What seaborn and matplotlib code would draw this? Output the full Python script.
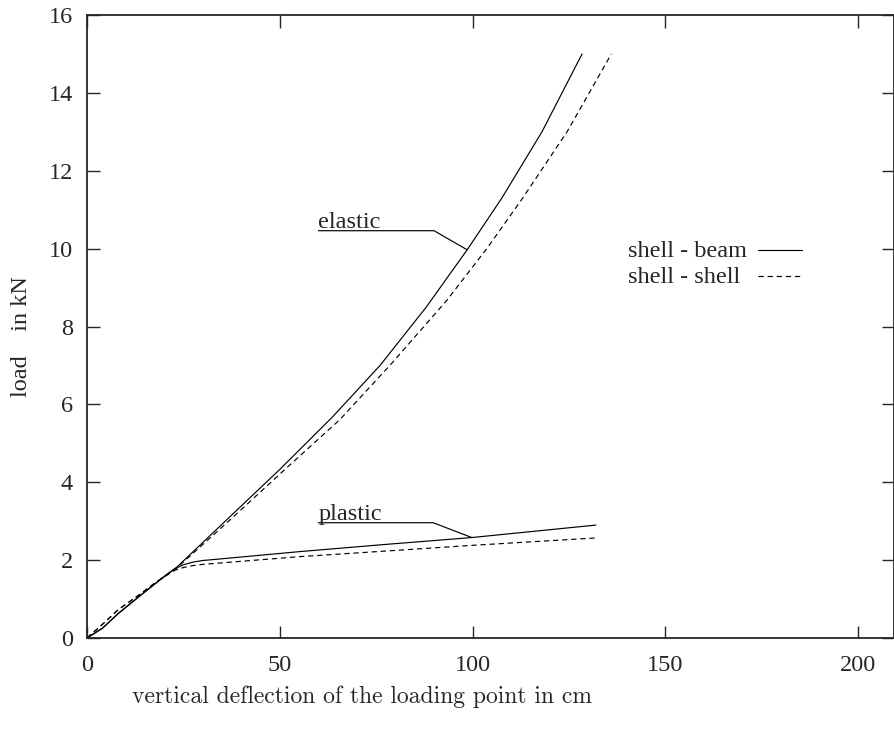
import numpy as np
import pandas as pd
import seaborn as sns
import matplotlib
matplotlib.use("Agg")
import matplotlib.pyplot as plt

# load-deflection curves (deflection in cm, load in kN)
elastic_beam_x = [0, 4, 8, 13.7, 18, 23.3, 36.6, 50, 63.5, 76, 88, 98.6, 107.6, 118, 128.4]
elastic_beam_y = [0, 0.25, 0.62, 1.08, 1.42, 1.82, 3.07, 4.33, 5.66, 7.0, 8.5, 9.97, 11.3, 13.0, 15.0]

elastic_shell_x = [0, 4, 8, 13.7, 18, 23.3, 37.5, 51, 65.5, 79, 93.3, 103.7, 112.8, 124.5, 136.0]
elastic_shell_y = [0, 0.35, 0.72, 1.12, 1.44, 1.8, 3.07, 4.3, 5.6, 7.05, 8.67, 10.0, 11.27, 13.0, 15.0]

plastic_beam_x = [0, 4, 8, 13.7, 18, 20.5, 22.8, 25, 27.5, 30, 40, 55.3, 77, 99.8, 132]
plastic_beam_y = [0, 0.25, 0.62, 1.08, 1.42, 1.62, 1.78, 1.88, 1.95, 1.99, 2.08, 2.22, 2.4, 2.58, 2.9]

plastic_shell_x = [0, 4, 8, 13.7, 18, 20.5, 22.8, 25, 27.5, 30, 40, 55.3, 77, 100, 132]
plastic_shell_y = [0, 0.35, 0.72, 1.12, 1.44, 1.6, 1.74, 1.81, 1.86, 1.89, 1.97, 2.09, 2.23, 2.38, 2.57]

# labels with their leader lines
elastic_leader_x = [60, 90, 98.6]
elastic_leader_y = [10.46, 10.46, 9.97]
plastic_leader_x = [60, 89.8, 99.8]
plastic_leader_y = [2.96, 2.96, 2.58]

x_ticks = [0, 50, 100, 150, 200]
y_ticks = [0, 2, 4, 6, 8, 10, 12, 14, 16]
key_labels = ["shell - beam", "shell - shell"]

sns.set_style("ticks")
plt.rcParams["font.family"] = ["Liberation Serif", "DejaVu Serif"]
plt.rcParams["font.size"] = 17.5

fig = plt.figure(figsize=(8.95, 7.29), dpi=100)
ax = fig.add_axes([87 / 895, 1 - 638 / 729, (894 - 87) / 895, (638 - 15) / 729])

lw = 0.85
dash = (0, (4.5, 3.2))
sns.lineplot(x=elastic_beam_x, y=elastic_beam_y, ax=ax, color="black", lw=lw, sort=False, estimator=None)
sns.lineplot(x=elastic_shell_x, y=elastic_shell_y, ax=ax, color="black", lw=lw, linestyle=dash, sort=False, estimator=None)
sns.lineplot(x=plastic_beam_x, y=plastic_beam_y, ax=ax, color="black", lw=lw, sort=False, estimator=None)
sns.lineplot(x=plastic_shell_x, y=plastic_shell_y, ax=ax, color="black", lw=lw, linestyle=dash, sort=False, estimator=None)

ax.plot(elastic_leader_x, elastic_leader_y, color="black", lw=lw)
ax.plot(plastic_leader_x, plastic_leader_y, color="black", lw=lw)
ax.text(60, 10.54, "elastic", ha="left", va="baseline")
ax.text(60, 3.04, "plastic", ha="left", va="baseline")

ax.set_xlim(0, 209.3)
ax.set_ylim(0, 16)
ax.set_xticks(x_ticks)
ax.set_yticks(y_ticks)
ax.tick_params(direction="in", top=True, right=True, length=9, width=1, labelsize=17.5)
ax.tick_params(axis="x", pad=12)
ax.tick_params(axis="y", pad=10)
for s in ax.spines.values():
    s.set_visible(True)
    s.set_linewidth(1.3)
ax.set_xlabel("")
ax.set_ylabel("")

# key, gnuplot style: text left aligned, sample line to the right
def px(xp, yp):
    return (xp - 87) / 807, (638 - yp) / 623

for i, (lab, ls) in enumerate(zip(key_labels, ["-", dash])):
    yc = 251 + 26 * i
    tx, ty = px(628, yc)
    ax.text(tx, ty, lab, transform=ax.transAxes, ha="left", va="center")
    x0, y0 = px(758, yc - 1)
    x1, _ = px(802, yc - 1)
    ax.plot([x0, x1], [y0, y0], transform=ax.transAxes, color="black", lw=lw, linestyle=ls)

fig.text(362 / 895, 1 - 697 / 729, "vertical deflection of the loading point in cm",
         ha="center", va="center", fontsize=17, family="cmr10")
fig.text(22 / 895, 1 - 337 / 729, "load    in kN", rotation=90,
         ha="center", va="center", fontsize=17.5)

fig.savefig("out.png", dpi=100)
